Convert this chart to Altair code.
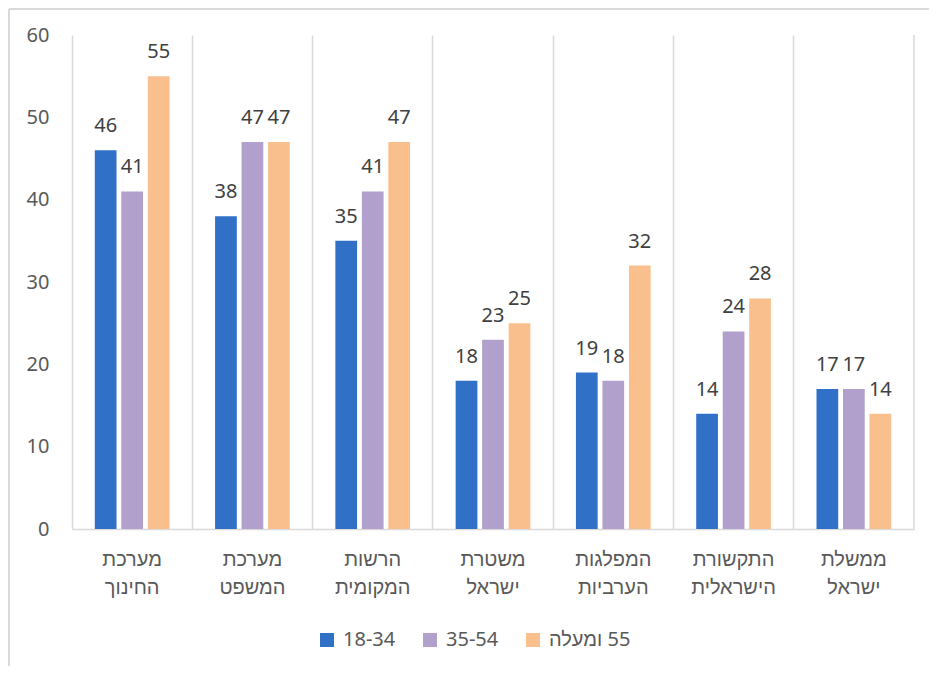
import altair as alt
import pandas as pd

categories = ["מערכת החינוך", "מערכת המשפט", "הרשות המקומית", "משטרת ישראל",
              "המפלגות הערביות", "התקשורת הישראלית", "ממשלת ישראל"]
series = ["18-34", "35-54", "55 ומעלה"]
v_18_34 = [46, 38, 35, 18, 19, 14, 17]
v_35_54 = [41, 47, 41, 23, 18, 24, 17]
v_55 = [55, 47, 47, 25, 32, 28, 14]
colors = ["#3070C6", "#B0A0CB", "#F9C08E"]


def visual_rtl(label):
    # render a mixed label in right-to-left visual order, deterministically
    words = label.split(" ")
    out = []
    for w in reversed(words):
        out.append(w[::-1] if any("\u0590" <= ch <= "\u05ff" for ch in w) else w)
    return "\u202d" + " ".join(out) + "\u202c"


display = {s: (visual_rtl(s) if any("\u0590" <= ch <= "\u05ff" for ch in s) else s)
           for s in series}
series_disp = [display[s] for s in series]

rows = []
for i, c in enumerate(categories):
    for s, vals in zip(series, [v_18_34, v_35_54, v_55]):
        rows.append({"cat": c, "series": display[s], "value": vals[i]})
df = pd.DataFrame(rows)

W, H = 842, 494
NUMFONT = "Noto Sans, Liberation Sans"
HEBFONT = "Liberation Sans"

x = alt.X("cat:N", sort=categories, title=None,
          scale=alt.Scale(paddingInner=0, paddingOuter=0),
          axis=alt.Axis(labelAngle=0, labelExpr="split(datum.label, ' ')",
                        labelFontSize=20, labelColor="#595959", labelFont=HEBFONT,
                        labelLineHeight=28, labelPadding=20, ticks=False,
                        domainColor="#D9D9D9", domainWidth=1.5,
                        grid=True, gridColor="#D9D9D9", gridWidth=1.5, bandPosition=0))
xo = alt.XOffset("series:N", sort=series_disp,
                 scale=alt.Scale(paddingInner=0.18, paddingOuter=0.86))
y = alt.Y("value:Q", title=None,
          scale=alt.Scale(domain=[0, 60]),
          axis=alt.Axis(values=[0, 10, 20, 30, 40, 50, 60], grid=False, domain=False,
                        ticks=False, labelFontSize=20, labelColor="#595959",
                        labelFont=NUMFONT, labelPadding=23))
color = alt.Color("series:N", sort=series_disp,
                  scale=alt.Scale(domain=series_disp, range=colors),
                  legend=alt.Legend(title=None, orient="none", direction="horizontal",
                                    legendX=245, legendY=595,
                                    symbolType="square", symbolSize=196,
                                    symbolStrokeWidth=0,
                                    labelFontSize=20, labelColor="#595959", labelFont=NUMFONT,
                                    columnPadding=24, symbolOffset=0, labelOffset=6))

base = alt.Chart(df)
bars = base.mark_bar().encode(x=x, xOffset=xo, y=y, color=color)
labels = base.mark_text(baseline="bottom", dy=-14, fontSize=20, color="#404040",
                        font=NUMFONT).encode(
    x=alt.X("cat:N", sort=categories), xOffset=alt.XOffset("series:N", sort=series_disp),
    y="value:Q", text="value:Q")

right_edge = alt.Chart(pd.DataFrame({"k": [0]})).mark_rule(
    color="#D9D9D9", strokeWidth=1.5).encode(
    x=alt.value(W), y=alt.value(0), y2=alt.value(H))

frame_left = alt.Chart(pd.DataFrame({"k": [0]})).mark_rule(
    color="#D9D9D9", strokeWidth=2).encode(
    x=alt.value(-63), y=alt.value(-26), y2=alt.value(H + 200))
frame_top = alt.Chart(pd.DataFrame({"k": [0]})).mark_rule(
    color="#D9D9D9", strokeWidth=2).encode(
    x=alt.value(-63), x2=alt.value(W + 100), y=alt.value(-26))

chart = alt.layer(frame_left, frame_top, bars, labels, right_edge).properties(
    width=W, height=H,
    autosize=alt.AutoSizeParams(type="none"),
    padding={"left": 64, "top": 27, "right": 15, "bottom": 137},
).configure_view(stroke=None)

chart.save("out.html", embed_options={"renderer": "svg", "actions": False})
